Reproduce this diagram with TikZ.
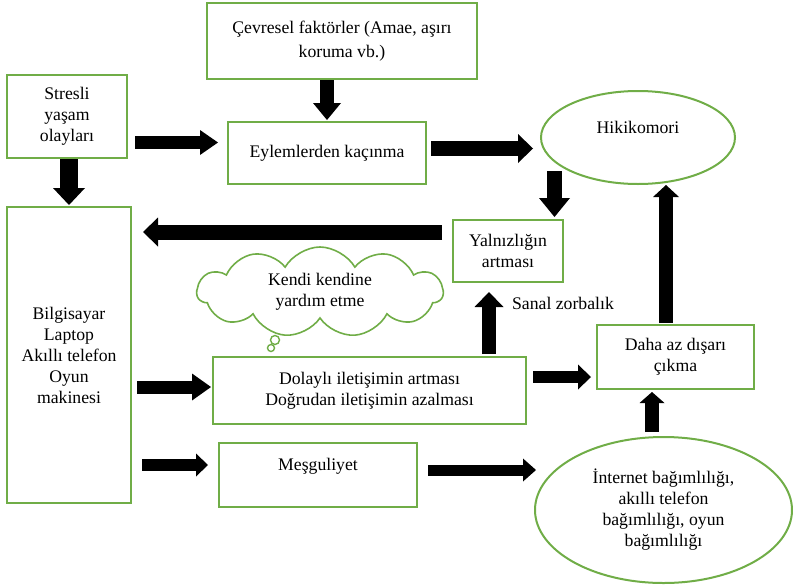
\documentclass[tikz,border=0pt]{standalone}
\usepackage{fontspec}
\setmainfont{Liberation Serif}
\usetikzlibrary{arrows.meta,shapes.geometric,shapes.symbols}
\definecolor{grn}{RGB}{112,173,71}
\begin{document}
\begin{tikzpicture}[x=1pt,y=1pt,
  every node/.style={font=\fontsize{17.7pt}{21pt}\selectfont, inner sep=0pt, outer sep=0pt, align=center},
  box/.style n args={2}{draw=grn, line width=2pt, rectangle, minimum width=#1pt, minimum height=#2pt},
  oval/.style n args={2}{draw=grn, line width=2pt, ellipse, minimum width=#1pt, minimum height=#2pt},
  blk/.style n args={3}{line width=#1pt, -{Triangle[length=#3pt,width=#2pt,line width=0pt]}}
]
\useasboundingbox (0,0) rectangle (793,-587);

% nodes
\node[box={270}{76}, font=\fontsize{17.7pt}{24pt}\selectfont] (cevre) at (342,-41) {Çevresel faktörler (Amae, aşırı\\koruma vb.)};
\node[box={120}{83}] (stresli) at (67,-116.5) {Stresli\\yaşam\\olayları};
\node[box={198}{62}] (eylem) at (327,-153) {Eylemlerden kaçınma};
\node[oval={194}{93}] (hiki) at (638,-137.5) {Hikikomori\\\mbox{}};
\node[box={110}{62}] (yaln) at (508,-251) {Yalnızlığın\\artması};
\node[box={124}{296}] (bilg) at (69,-355) {Bilgisayar\\Laptop\\Akıllı telefon\\Oyun\\makinesi};
\node[cloud, cloud puffs=11, cloud puff arc=120, aspect=2.7, draw=grn, line width=1.6pt,
      minimum width=246pt, minimum height=90pt] (cloud) at (320,-292) {Kendi kendine\\yardım etme};
\draw[grn, line width=1.4pt] (275,-340) circle (4.5);
\draw[grn, line width=1.4pt] (271,-348) circle (3.5);
\node[box={313}{67}] (dolayli) at (369.5,-390.5) {Dolaylı iletişimin artması\\Doğrudan iletişimin azalması};
\node[box={198}{64}] (mesg) at (318,-475) {Meşguliyet\\\mbox{}};
\node[box={157}{64}] (daha) at (675.5,-357) {Daha az dışarı\\çıkma};
\node[oval={257}{146}] (inter) at (663.5,-510) {İnternet bağımlılığı,\\akıllı telefon\\bağımlılığı, oyun\\bağımlılığı};
\node (sanal) at (563,-303) {Sanal zorbalık};

% block arrows
\draw[blk={13}{25}{18}] ([shift={(8,-26)}]stresli.east) -- ([shift={(-10,10.5)}]eylem.west);
\draw[blk={18}{32}{17}] ([shift={(2,-1)}]stresli.south) -- ([shift={(0,2)}]bilg.north);
\draw[blk={14}{28}{17}] ([shift={(-15,-1)}]cevre.south) -- ([shift={(0,2)}]eylem.north);
\draw[blk={15}{29}{15}] ([shift={(5,4.5)}]eylem.east) -- ([shift={(-8,-11)}]hiki.west);
\draw[blk={15}{31}{19}] ([shift={(-83.5,13)}]hiki.south) -- ([shift={(46.5,3)}]yaln.north);
\draw[blk={15}{29}{15}] ([shift={(-11,19)}]yaln.west) -- ([shift={(12,123)}]bilg.east);
\draw[blk={13}{27}{19}] ([shift={(6,-32)}]bilg.east) -- ([shift={(-2,3.5)}]dolayli.west);
\draw[blk={12}{23}{12}] ([shift={(11,-110)}]bilg.east) -- ([shift={(-11,10)}]mesg.west);
\draw[blk={11}{23}{13}] ([shift={(11,5)}]mesg.east) -- ([shift={(1,40)}]inter.west);
\draw[blk={12}{25}{13}] ([shift={(7,13.5)}]dolayli.east) -- ([shift={(-6,-20)}]daha.west);
\draw[blk={14}{29}{15}] ([shift={(119.5,3)}]dolayli.north) -- ([shift={(-19,-10)}]yaln.south);
\draw[blk={14}{25}{11}] ([shift={(-11.5,5)}]inter.north) -- ([shift={(-23.5,-3)}]daha.south);
\draw[blk={14}{26}{12}] ([shift={(-9.5,2)}]daha.north) -- ([shift={(28,-1)}]hiki.south);
\end{tikzpicture}
\end{document}
